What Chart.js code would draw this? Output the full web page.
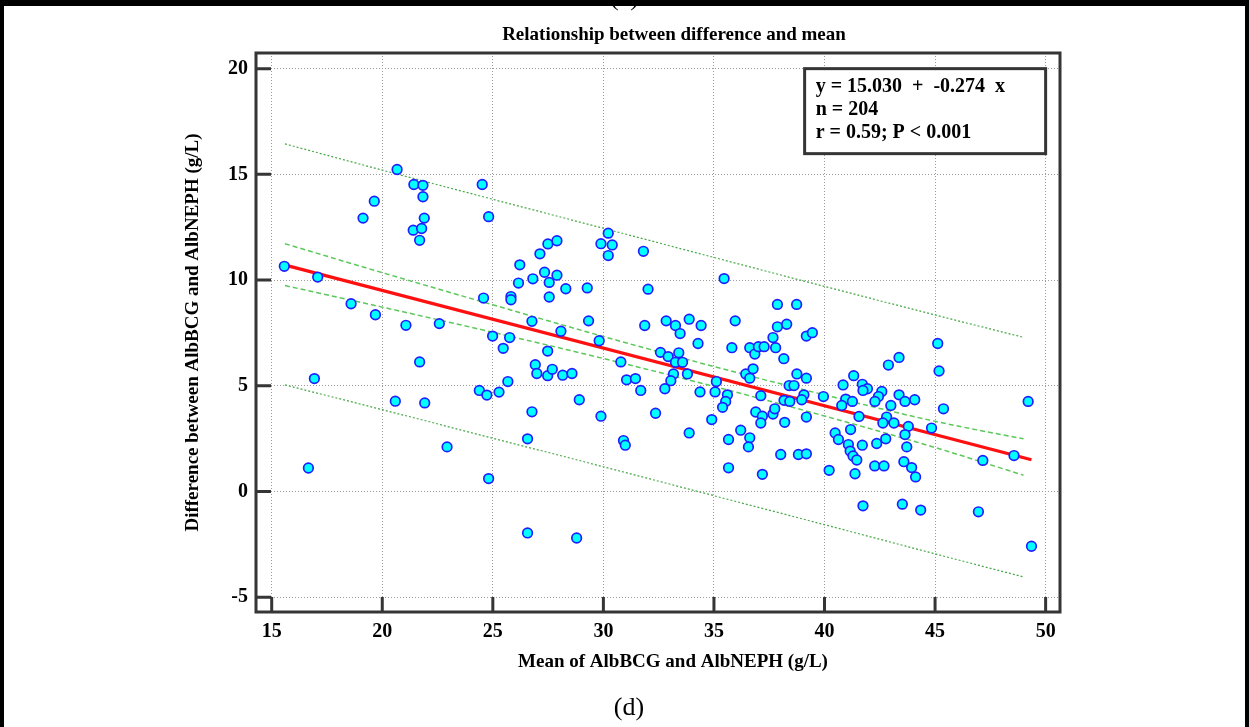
<!DOCTYPE html>
<html>
<head>
<meta charset="utf-8">
<script src="https://cdn.jsdelivr.net/npm/chart.js@4.4.0/dist/chart.umd.min.js"></script>
<style>
html, body { margin: 0; padding: 0; background: #fff; }
#wrap { position: relative; width: 1249px; height: 727px; overflow: hidden; background: #fff; }
#myChart { position: absolute; left: 0; top: 0; }
#prev { position: absolute; left: 0; top: -18px; width: 1249px; text-align: center; font: 26px 'Liberation Serif'; color: #000; }
#edge { position: absolute; left: 0; top: 0; width: 1249px; height: 727px; box-sizing: border-box;
        border-top: 6px solid #000; border-left: 4px solid #000; border-right: 4px solid #000; pointer-events: none; }
#caption { position: absolute; left: 0; top: 692px; width: 1258px; text-align: center; font: 26px 'Liberation Serif'; color: #000; }
</style>
</head>
<body>
<div id="wrap">
  <canvas id="myChart" width="1249" height="727"></canvas>
  <div id="prev">(c)</div>
  <div id="edge"></div>
  <div id="caption">(d)</div>
</div>
<script>
'use strict';

var chartTitle = 'Relationship between difference and mean';
var xTitle = 'Mean of AlbBCG and AlbNEPH (g/L)';
var yTitle = 'Difference between AlbBCG and AlbNEPH (g/L)';
var statsLines = ['y = 15.030  +  -0.274  x', 'n = 204', 'r = 0.59; P < 0.001'];

var xTicks = [15, 20, 25, 30, 35, 40, 45, 50];
var yTicks = [-5, 0, 5, 10, 15, 20];

// mean of the two methods (x) and their difference (y), one point each
var meanValues = [
  15.57, 17.08, 18.59, 19.69, 21.07, 22.58, 19.13, 19.64, 20.67, 21.43,
  21.84, 21.84, 21.90, 21.40, 21.78, 21.69, 24.52, 24.81, 26.22, 26.81,
  26.16, 25.82, 25.82, 24.58, 26.77, 24.99, 25.76, 25.47, 21.69, 16.93,
  16.66, 20.59, 21.92, 22.93, 24.39, 24.73, 25.28, 25.68, 24.81, 26.57,
  26.57, 26.77,
  27.13, 27.49, 27.90, 27.34, 27.55, 27.90, 27.55, 28.30, 29.27, 29.89,
  30.22, 30.40, 30.22, 31.81, 32.02, 35.46, 29.33, 28.08, 29.81, 27.48,
  31.87, 32.84, 33.26, 33.47, 33.88, 34.42, 34.28, 30.79, 32.58, 32.93,
  33.41, 33.26, 33.58, 33.17, 33.80, 33.05, 31.05, 31.45, 31.69, 32.78,
  26.92, 26.99, 27.48, 27.69, 28.16, 28.58, 28.91, 34.37, 35.05, 35.11,
  35.61, 35.96, 35.81, 36.62, 36.85, 37.01, 37.27, 37.67, 37.79, 37.87,
  37.87, 38.29, 38.74, 38.16, 38.75, 36.44, 36.77, 36.62, 37.12, 38.40,
  38.62,
  29.89, 32.36, 30.91, 30.99, 33.88, 35.53, 35.39, 34.90, 35.66, 35.66,
  36.21, 36.62, 36.56, 36.89, 37.19, 37.12, 37.67, 37.75, 38.20, 38.02,
  37.19, 38.82, 28.79, 38.17, 38.43,
  39.18, 39.45, 39.18, 39.07, 38.97, 39.95, 41.32, 40.84, 41.71, 41.94,
  41.74, 42.59, 42.44, 42.28, 40.96, 40.78, 41.26, 43.00, 43.37, 43.64,
  44.08, 42.89, 43.37, 45.12, 45.18, 45.38, 49.21, 39.18, 41.56, 42.81,
  42.64, 43.14, 43.79, 44.84,
  43.64, 43.72, 47.16, 48.57, 39.18, 40.48, 40.63, 41.18, 41.71, 41.08,
  41.16, 41.29, 41.46, 40.21, 41.38, 42.27, 42.69, 42.36, 42.77, 43.59,
  43.94, 44.12, 41.74, 43.52, 44.35, 46.96, 49.36
];
var diffValues = [
  10.65, 10.14, 8.88, 8.36, 7.86, 7.94, 12.93, 13.73, 15.23, 14.52,
  14.48, 13.94, 12.93, 12.36, 12.44, 11.88, 14.52, 13.00, 10.72, 10.06,
  9.86, 9.22, 9.07, 9.15, 8.05, 7.35, 7.28, 6.77, 6.13, 5.34,
  1.11, 4.27, 4.19, 2.11, 4.78, 4.56, 4.70, 5.20, 0.61, -1.96,
  2.49, 3.77,
  11.24, 11.71, 11.86, 10.37, 9.89, 10.23, 9.20, 9.59, 9.63, 11.72,
  12.22, 11.66, 11.16, 11.36, 9.57, 10.07, 8.07, 7.58, 7.13, 6.64,
  7.85, 8.07, 7.85, 7.47, 8.15, 7.85, 7.00, 6.13, 6.58, 6.38,
  6.56, 6.11, 6.11, 5.56, 5.56, 5.24, 5.28, 5.34, 4.78, 4.86,
  6.00, 5.58, 5.48, 5.78, 5.50, 5.58, 4.34, 4.71, 4.71, 5.20,
  4.57, 8.07, 6.80, 6.80, 6.50, 6.85, 6.85, 7.28, 6.80, 8.85,
  7.79, 7.91, 8.85, 6.28, 5.56, 5.56, 5.80, 5.36, 4.53, 5.01,
  5.01,
  3.56, 3.70, 2.41, 2.19, 2.77, 4.26, 3.98, 3.40, 2.46, 1.12,
  2.90, 2.54, 2.11, 3.76, 3.56, 3.24, 3.66, 3.91, 3.27, 1.75,
  0.81, 1.75, -2.20, 4.31, 4.26,
  7.35, 7.51, 5.36, 4.57, 4.34, 4.49, 5.48, 5.04, 5.07, 4.86,
  4.78, 4.73, 4.49, 4.26, 4.37, 4.07, 4.26, 4.07, 4.57, 4.26,
  4.34, 5.98, 6.34, 7.00, 5.70, 3.91, 4.26, 3.52, 3.55, 3.52,
  3.24, 3.24, 3.08, 3.00,
  2.69, 2.11, 1.47, 1.70, 1.78, 2.77, 2.46, 2.93, 2.19, 2.22,
  1.91, 1.68, 1.49, 1.00, 0.84, 1.21, 1.21, 2.27, 2.49, 1.41,
  1.13, 0.69, -0.68, -0.60, -0.88, -0.96, -2.59
];

// regression line end points
var regX = [15.57, 49.36];
var regY = [10.72, 1.50];

// curves: 95% CI of the line and prediction interval
var bandX = [15.6, 20, 25, 30, 35, 40, 45, 49.0];
var ciUpper = [11.72, 10.35, 8.83, 7.33, 5.91, 4.57, 3.32, 2.49];
var ciLower = [9.74, 8.72, 7.53, 6.29, 4.97, 3.57, 2.08, 0.77];
var piUpper = [16.44, 15.20, 13.82, 12.45, 11.07, 9.70, 8.35, 7.29];
var piLower = [5.04, 3.87, 2.52, 1.17, -0.20, -1.57, -2.95, -4.04];

function pairUp(xs, ys) {
    var out = [];
    for (var i = 0; i < xs.length; i++) {
        out.push({x: xs[i], y: ys[i]});
    }
    return out;
}

var serif = 'Liberation Serif, Times New Roman, serif';

function lineSet(xs, ys, color, width, dash, order) {
    return {
        data: pairUp(xs, ys),
        showLine: true,
        borderColor: color,
        borderWidth: width,
        borderDash: dash,
        pointRadius: 0,
        fill: false,
        cubicInterpolationMode: 'monotone',
        order: order
    };
}

var framePlugin = {
    id: 'framePlugin',
    afterDraw: function (chart) {
        var c = chart.ctx;
        var a = chart.chartArea;
        var xs = chart.scales.x;
        var ys = chart.scales.y;
        c.save();

        // plot frame and inward ticks
        c.strokeStyle = '#353535';
        c.lineWidth = 3;
        c.strokeRect(a.left, a.top, a.right - a.left, a.bottom - a.top);
        c.beginPath();
        for (var i = 0; i < xTicks.length; i++) {
            var px = xs.getPixelForValue(xTicks[i]);
            c.moveTo(px, a.bottom);
            c.lineTo(px, a.bottom - 15);
        }
        for (var j = 0; j < yTicks.length; j++) {
            var py = ys.getPixelForValue(yTicks[j]);
            c.moveTo(a.left, py);
            c.lineTo(a.left + 15, py);
        }
        c.stroke();

        // stats box in the upper right corner
        var bRight = xs.getPixelForValue(50);
        var bTop = ys.getPixelForValue(20);
        var bLeft = bRight - 241;
        var bBottom = bTop + 85;
        c.fillStyle = '#fff';
        c.fillRect(bLeft, bTop, bRight - bLeft, bBottom - bTop);
        c.strokeRect(bLeft, bTop, bRight - bLeft, bBottom - bTop);
        c.fillStyle = '#000';
        c.font = 'bold 20px ' + serif;
        c.textAlign = 'left';
        c.textBaseline = 'middle';
        for (var k = 0; k < statsLines.length; k++) {
            c.fillText(statsLines[k], bLeft + 11, bTop + 18 + k * 23.3);
        }

        // titles
        c.textAlign = 'center';
        c.font = 'bold 19px ' + serif;
        c.fillText(chartTitle, 674, 35);
        c.fillText(xTitle, 673, 662);
        c.translate(193, (a.top + a.bottom) / 2);
        c.rotate(-Math.PI / 2);
        c.fillText(yTitle, 0, 0);
        c.restore();
    }
};

var ctx = document.getElementById('myChart').getContext('2d');
var chart = new Chart(ctx, {
    type: 'scatter',
    data: {
        datasets: [
            {
                data: pairUp(meanValues, diffValues),
                backgroundColor: '#00ffff',
                borderColor: '#1e1eff',
                borderWidth: 1.7,
                pointRadius: 4.8,
                order: 0
            },
            lineSet(regX, regY, '#ff1010', 3.2, [], 1),
            lineSet(bandX, ciUpper, '#5cc85c', 1.5, [5, 3], 2),
            lineSet(bandX, ciLower, '#5cc85c', 1.5, [5, 3], 2),
            lineSet(bandX, piUpper, '#48a848', 1.2, [2, 2], 3),
            lineSet(bandX, piLower, '#48a848', 1.2, [2, 2], 3)
        ]
    },
    options: {
        responsive: false,
        animation: false,
        devicePixelRatio: 1,
        layout: {padding: {top: 53, right: 189, bottom: 0, left: 0}},
        plugins: {
            legend: {display: false},
            tooltip: {enabled: false},
            title: {display: false}
        },
        scales: {
            x: {
                type: 'linear',
                min: 14.29,
                max: 50.65,
                afterBuildTicks: function (s) {
                    s.ticks = xTicks.map(function (v) { return {value: v}; });
                },
                afterFit: function (s) { s.height = 115; },
                grid: {color: '#9a9a9a', lineWidth: 1, drawTicks: false},
                border: {display: false, dash: [1, 2]},
                ticks: {
                    color: '#000',
                    padding: 8,
                    maxRotation: 0,
                    autoSkip: false,
                    font: {family: serif, size: 20, weight: 'bold'}
                }
            },
            y: {
                type: 'linear',
                min: -5.70,
                max: 20.74,
                afterBuildTicks: function (s) {
                    s.ticks = yTicks.map(function (v) { return {value: v}; });
                },
                afterFit: function (s) { s.width = 256; },
                grid: {color: '#9a9a9a', lineWidth: 1, drawTicks: false},
                border: {display: false, dash: [1, 2]},
                ticks: {
                    color: '#000',
                    padding: 8,
                    autoSkip: false,
                    font: {family: serif, size: 20, weight: 'bold'}
                }
            }
        }
    },
    plugins: [framePlugin]
});
</script>
</body>
</html>
